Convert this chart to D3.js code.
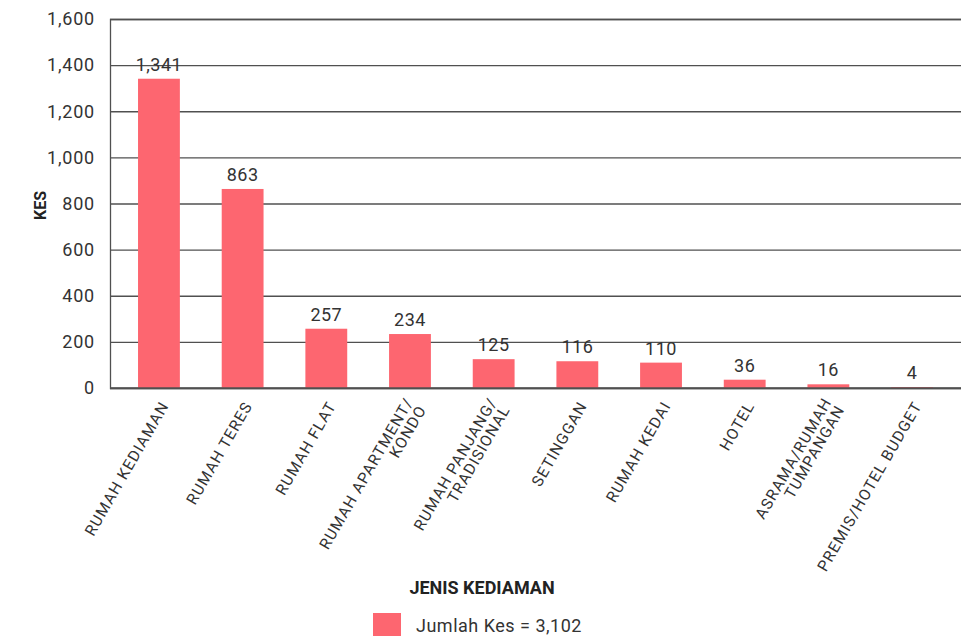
<!DOCTYPE html>
<html><head><meta charset="utf-8">
<script src="https://cdn.jsdelivr.net/npm/d3@7/dist/d3.min.js"></script>
<style>
html,body{margin:0;padding:0;background:#fff;}
svg{display:block;font-family:Roboto, "Noto Sans", sans-serif;}
</style></head>
<body>
<svg id="chart" width="961" height="636"></svg>
<script>
const categories = [
  ["RUMAH KEDIAMAN"],
  ["RUMAH TERES"],
  ["RUMAH FLAT"],
  ["RUMAH APARTMENT/", "KONDO"],
  ["RUMAH PANJANG/", "TRADISIONAL"],
  ["SETINGGAN"],
  ["RUMAH KEDAI"],
  ["HOTEL"],
  ["ASRAMA/RUMAH", "TUMPANGAN"],
  ["PREMIS/HOTEL BUDGET"]
];
const values = [1341, 863, 257, 234, 125, 116, 110, 36, 16, 4];
const yTicks = [0, 200, 400, 600, 800, 1000, 1200, 1400, 1600];
const yTitle = "KES";
const xTitle = "JENIS KEDIAMAN";
const legendLabel = "Jumlah Kes = 3,102";

const svg = d3.select("#chart");
const W = 961, H = 636;
const m = {left: 110, right: 0, top: 19, bottom: 248};
const barColor = "#fd6670";
const textColor = "#333";

const x = d3.scaleBand()
  .domain(categories.map((d, i) => i))
  .range([m.left, W - m.right])
  .paddingInner(0.5)
  .paddingOuter(0.335);

const y = d3.scaleLinear().domain([0, 1600]).range([H - m.bottom, m.top]);

// gridlines + y axis
const yAxis = d3.axisLeft(y).tickValues(yTicks).tickFormat(d3.format(",")).tickSize(-(W - m.left)).tickPadding(15);
const gy = svg.append("g").attr("transform", `translate(${m.left},0)`).call(yAxis);
gy.select(".domain").attr("stroke", "#505050").attr("stroke-width", 1.3);
gy.selectAll(".tick line").attr("stroke", "#505050").attr("stroke-width", 1.3);
gy.selectAll(".tick text").attr("fill", textColor).attr("font-size", 18)
  .attr("font-family", "Roboto, sans-serif").attr("letter-spacing", 0.8);

// bars
svg.append("g").selectAll("rect").data(values).join("rect")
  .attr("x", (d, i) => x(i))
  .attr("width", x.bandwidth())
  .attr("y", d => y(d))
  .attr("height", d => y(0) - y(d))
  .attr("fill", barColor);

// value labels
svg.append("g").selectAll("text").data(values).join("text")
  .attr("x", (d, i) => x(i) + x.bandwidth() / 2)
  .attr("y", d => y(d) - 8)
  .attr("text-anchor", "middle")
  .attr("fill", textColor)
  .attr("font-size", 18)
  .attr("letter-spacing", 0.5)
  .text(d => d3.format(",")(d));

// x axis line on top of bars
svg.append("line").attr("x1", m.left).attr("x2", W).attr("y1", y(0)).attr("y2", y(0))
  .attr("stroke", "#505050").attr("stroke-width", 1.3);

// x tick labels (rotated, end-anchored, multi-line centred on the tick)
const lineH = 15;
const xl = svg.append("g").selectAll("text").data(categories).join("text")
  .attr("transform", (d, i) => `translate(${x(i) + x.bandwidth() / 2 + 6},${y(0) + 15}) rotate(-60)`)
  .attr("text-anchor", "end")
  .attr("fill", textColor)
  .attr("font-size", 15.5)
  .attr("letter-spacing", 1.1);
xl.each(function(d) {
  const t = d3.select(this);
  const n = d.length;
  d.forEach((line, j) => {
    t.append("tspan").attr("x", 0).attr("y", (j - (n - 1) / 2) * lineH + 5).text(line);
  });
});

// titles
svg.append("text").attr("transform", `translate(46,${(m.top + y(0)) / 2 + 2}) rotate(-90)`)
  .attr("text-anchor", "middle").attr("font-weight", "bold").attr("font-size", 16).attr("fill", "#222").text(yTitle);
svg.append("text").attr("x", 482).attr("y", 594)
  .attr("text-anchor", "middle").attr("font-weight", "bold").attr("font-size", 18).attr("fill", "#222").text(xTitle);

// legend
svg.append("rect").attr("x", 373).attr("y", 613).attr("width", 28).attr("height", 23).attr("fill", barColor);
svg.append("text").attr("x", 416).attr("y", 632).attr("font-size", 18).attr("letter-spacing", 0.5).attr("fill", textColor).text(legendLabel);
</script>
</body></html>
